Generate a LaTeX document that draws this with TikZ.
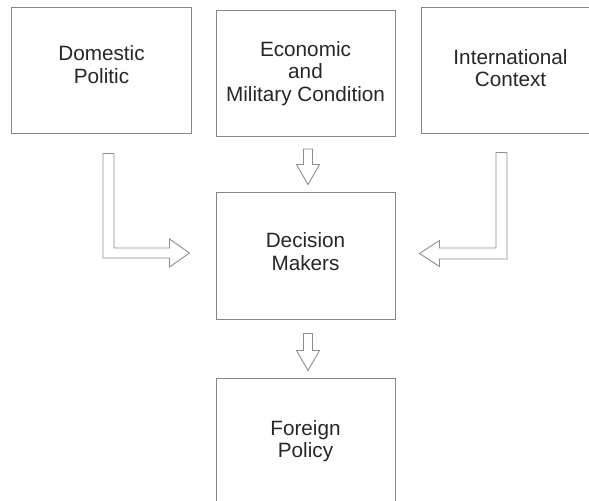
\documentclass[tikz,border=0pt]{standalone}
\usepackage{fontspec}
\setmainfont{Liberation Sans}
\usetikzlibrary{calc}

\definecolor{boxgray}{HTML}{858585}
\definecolor{arrowgray}{HTML}{8E8E8E}
\definecolor{textgray}{HTML}{262626}

\begin{document}
\begin{tikzpicture}[x=1bp, y=-1bp,
    box/.style={draw=boxgray, line width=1bp, minimum width=179bp, minimum height=126bp,
        align=center, text=textgray, font=\fontsize{20.8}{22.5}\selectfont},
    hollow/.style={draw=arrowgray, line width=0.9bp, fill=white, line join=miter}]
\def\shaft{4.5}
\def\head{11.5}
\def\headlen{20}

    \useasboundingbox (0,0) rectangle (589,501);
    \clip (0,0) rectangle (589,501);

    % top row
    \node[box, text depth=13bp] (dom) at (101.5,71) {Domestic\\Politic};
    \node[box] (eco) at (305.5,73.5) {Economic\\and\\Military Condition};
    \node[box, text depth=6bp] (int) at (510.5,71) {International\\Context};

    % middle column
    \node[box, text depth=9bp] (dec) at (305.5,256) {Decision\\Makers};
    \node[box] (for) at (305.5,441) {Foreign\\Policy};

    % straight block arrows
    \coordinate (topA) at ($(eco.south)+(2.5,12)$);
    \coordinate (tipA) at ($(dec.north)+(2.5,-8)$);
    \draw[hollow] ($(topA)+(-\shaft,0)$) -- ($(topA)+(\shaft,0)$)
        -- ($(tipA)+(\shaft,-\headlen)$) -- ($(tipA)+(\head,-\headlen)$) -- (tipA)
        -- ($(tipA)+(-\head,-\headlen)$) -- ($(tipA)+(-\shaft,-\headlen)$) -- cycle;

    \coordinate (topB) at ($(dec.south)+(2.5,14)$);
    \coordinate (tipB) at ($(for.north)+(2.5,-7)$);
    \draw[hollow] ($(topB)+(-\shaft,0)$) -- ($(topB)+(\shaft,0)$)
        -- ($(tipB)+(\shaft,-\headlen)$) -- ($(tipB)+(\head,-\headlen)$) -- (tipB)
        -- ($(tipB)+(-\head,-\headlen)$) -- ($(tipB)+(-\shaft,-\headlen)$) -- cycle;

    % bent block arrows
    \coordinate (topL) at ($(dom.south)+(7,19)$);
    \coordinate (tipL) at ($(dec.west)+(-26,-3)$);
    \draw[hollow] ($(topL)+(-5.5,0)$) -- ($(topL)+(5.5,0)$) |- ($(tipL)+(-\headlen,-5)$)
        -- ($(tipL)+(-\headlen,-14)$) -- (tipL) -- ($(tipL)+(-\headlen,14)$)
        -- ($(tipL)+(-\headlen,5)$) -| ($(topL)+(-5.5,0)$) -- cycle;

    \coordinate (topR) at ($(int.south)+(-9,18)$);
    \coordinate (tipR) at ($(dec.east)+(24,-2.5)$);
    \draw[hollow] ($(topR)+(5.5,0)$) -- ($(topR)+(-5.5,0)$) |- ($(tipR)+(\headlen,-5.5)$)
        -- ($(tipR)+(\headlen,-13)$) -- (tipR) -- ($(tipR)+(\headlen,13)$)
        -- ($(tipR)+(\headlen,5.5)$) -| ($(topR)+(5.5,0)$) -- cycle;
\end{tikzpicture}
\end{document}
